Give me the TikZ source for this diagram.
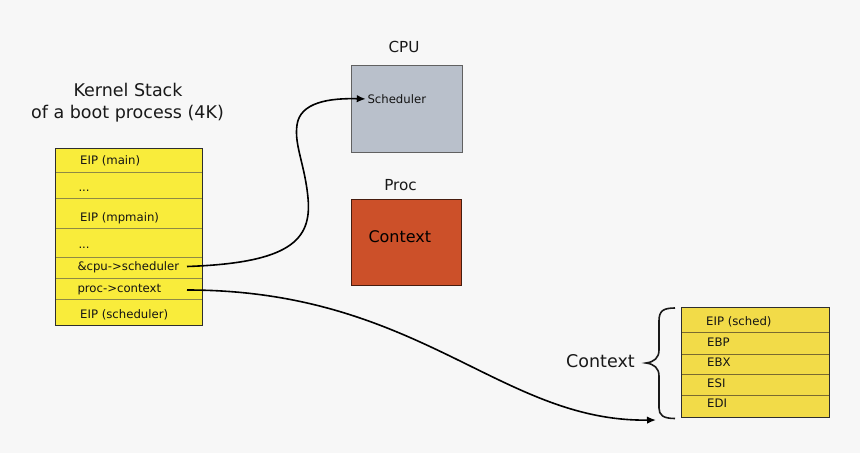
\documentclass[tikz,border=0pt]{standalone}
\usepackage{fontspec}
\setmainfont{DejaVu Sans}
\usetikzlibrary{arrows.meta}
\definecolor{bg}{HTML}{F7F7F7}
\definecolor{stackyellow}{HTML}{F9EC3B}
\definecolor{ctxyellow}{HTML}{F2DB48}
\definecolor{cpugray}{HTML}{B9C0CB}
\definecolor{procred}{HTML}{CC5029}
\definecolor{rowline}{HTML}{8F8A45}
\definecolor{ctxline}{HTML}{7A6A30}
\definecolor{edge}{HTML}{2E2E2E}
\begin{document}
\begin{tikzpicture}[x=1pt,y=-1pt,
  lcell/.style={draw=rowline, line width=0.8pt, fill=stackyellow, minimum width=147pt, inner sep=0pt, outer sep=0pt, anchor=north west},
  rcell/.style={draw=ctxline, line width=0.8pt, fill=ctxyellow, minimum width=147.3pt, inner sep=0pt, outer sep=0pt, anchor=north west},
  small/.style={font=\fontsize{11.7}{13}\selectfont, inner sep=0pt, anchor=base west, text=black!92},
  big/.style={font=\fontsize{17.5}{20}\selectfont, inner sep=0pt, anchor=base, text=black!90},
  mid/.style={font=\fontsize{15.2}{18}\selectfont, inner sep=0pt, anchor=base, text=black!90},
  conn/.style={line width=1.6pt, -{Latex[length=9pt,width=7.5pt]}},
  box/.style={line width=0.9pt, minimum width=110.6pt, minimum height=86.6pt, inner sep=0pt, outer sep=0pt, anchor=north west}
]
\useasboundingbox[fill=bg] (0,0) rectangle (860,453);

% title
\node[big] (title1) at (128,96) {Kernel Stack};
\node[big] (title2) at (127.5,118.5) {of a boot process (4K)};

% left stack
\node[lcell, minimum height=24.4pt] (r1) at (55,148.3) {};
\node[lcell, minimum height=25.6pt] (r2) at (55,172.7) {};
\node[lcell, minimum height=30pt]   (r3) at (55,198.3) {};
\node[lcell, minimum height=29pt]   (r4) at (55,228.3) {};
\node[lcell, minimum height=21pt]   (r5) at (55,257.3) {};
\node[lcell, minimum height=21pt]   (r6) at (55,278.3) {};
\node[lcell, minimum height=25.7pt] (r7) at (55,299.3) {};
\draw[edge, line width=1pt] (r1.north west) rectangle (r7.south east);

\node[small] (t1) at (80,164.3) {EIP (main)};
\node[small] (t2) at (78.3,191.7) {...};
\node[small] (t3) at (80,221) {EIP (mpmain)};
\node[small] (t4) at (78.3,248.3) {...};
\node[small] (t5) at (77.3,270) {\&cpu->scheduler};
\node[small] (t6) at (77.3,292) {proc->context};
\node[small] (t7) at (80,318.3) {EIP (scheduler)};

% CPU
\node[mid] (cpulabel) at (404,52.7) {CPU};
\node[box, draw=black!62, fill=cpugray] (cpu) at (351.7,65.7) {};
\node[small] (sched) at (367.3,103.3) {Scheduler};

% Proc
\node[mid] (proclabel) at (400.5,190) {Proc};
\node[box, draw=black!65!procred, fill=procred] (proc) at (351,199.3) {};
\node[font=\fontsize{16}{18}\selectfont, inner sep=0pt, anchor=base west, text=black] (pctx) at (368.3,242.3) {Context};

% right stack
\node[rcell, minimum height=25pt]   (c1) at (681.7,307.3) {};
\node[rcell, minimum height=22pt]   (c2) at (681.7,332.3) {};
\node[rcell, minimum height=20pt]   (c3) at (681.7,354.3) {};
\node[rcell, minimum height=20.7pt] (c4) at (681.7,374.3) {};
\node[rcell, minimum height=22.3pt] (c5) at (681.7,395) {};
\draw[edge, line width=1pt] (c1.north west) rectangle (c5.south east);

\node[small] (u1) at (706,325) {EIP (sched)};
\node[small] (u2) at (707,346) {EBP};
\node[small] (u3) at (707,366.7) {EBX};
\node[small] (u4) at (707,387.7) {ESI};
\node[small] (u5) at (707,407.7) {EDI};

% brace and label
\draw[black!90, line width=1.6pt] (675,308) .. controls (663,308) and (659,311) .. (659,321)
  -- (659,350) .. controls (659,358) and (654,362) .. (646,363)
  .. controls (654,364) and (659,368) .. (659,376)
  -- (659,408) .. controls (659,415) and (663,418.5) .. (675,418.5);
\node[big, anchor=base west] (ctxlabel) at (566,367.3) {Context};

% connectors
\coordinate (s1) at (187,266.5);
\coordinate (s2) at (187,290);
\coordinate (e2) at (656,420);
\draw[conn] (s1) .. controls (290,263) and (312,240) .. (308,198)
  .. controls (305,165) and (294,145) .. (297,125)
  .. controls (300,102) and (330,98) .. ([xshift=-1.5pt]sched.west);
\draw[conn] (s2) .. controls (420,290) and (500,422) .. (e2);
\end{tikzpicture}
\end{document}
